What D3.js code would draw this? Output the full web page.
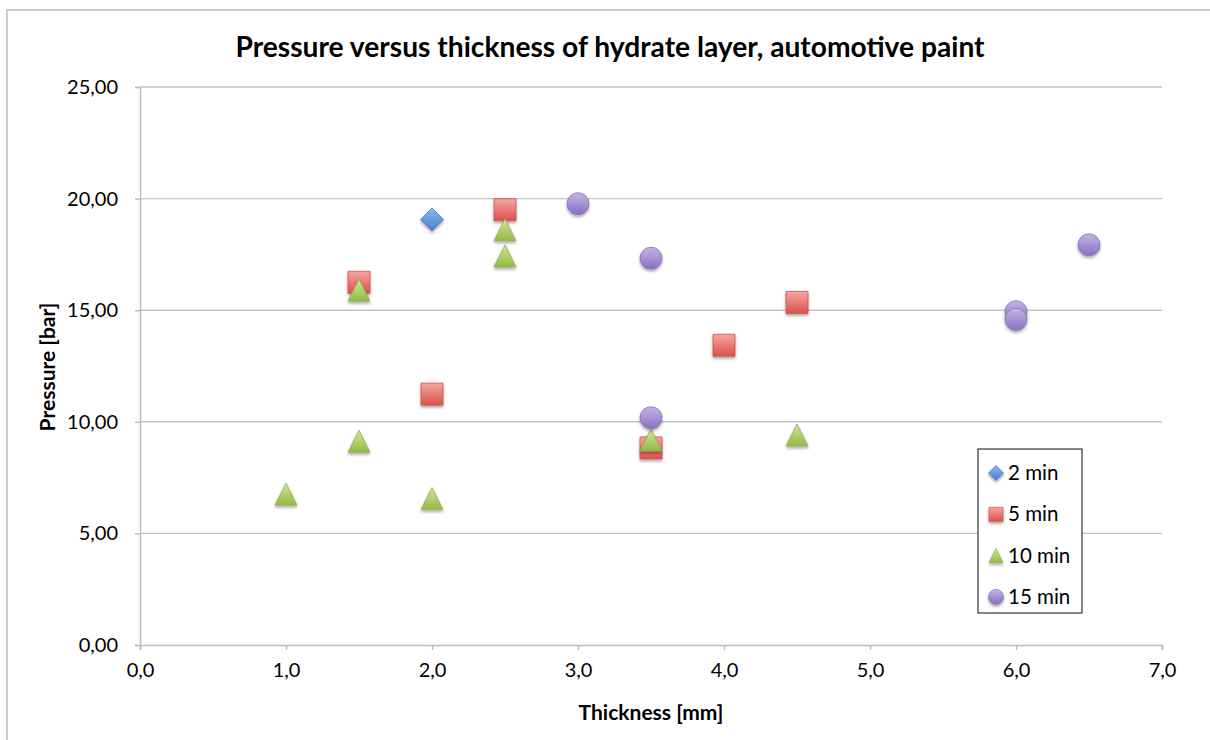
<!DOCTYPE html>
<html>
<head>
<meta charset="utf-8">
<script src="https://cdn.jsdelivr.net/npm/d3@7"></script>
<style>
  html, body { margin: 0; padding: 0; background: #fff; }
  svg { display: block; }
  text { font-family: Lato, "Open Sans", "Liberation Sans", sans-serif; fill: #000; }
</style>
</head>
<body>
<svg id="chart" width="1210" height="740"></svg>
<script>
// Series: thickness [mm] and pressure [bar] per exposure time
const thick2 = [2.0];
const press2 = [19.06];
const thick5 = [1.5, 2.0, 2.5, 3.5, 4.0, 4.5];
const press5 = [16.25, 11.24, 19.5, 8.83, 13.43, 15.35];
const thick10 = [1.0, 1.5, 1.5, 2.0, 2.5, 2.5, 3.5, 4.5];
const press10 = [6.76, 15.9, 9.13, 6.56, 18.6, 17.43, 9.19, 9.41];
const thick15 = [3.0, 3.5, 3.5, 6.0, 6.0, 6.5];
const press15 = [19.77, 17.33, 10.18, 14.93, 14.59, 17.93];

const seriesNames = ["2 min", "5 min", "10 min", "15 min"];
const xTicks = [0, 1, 2, 3, 4, 5, 6, 7];
const yTicks = [0, 5, 10, 15, 20, 25];

const titleText = "Pressure versus thickness of hydrate layer, automotive paint";
const xTitle = "Thickness [mm]";
const yTitle = "Pressure [bar]";

const svg = d3.select("#chart");

// outer chart frame
svg.append("rect")
  .attr("x", 7).attr("y", 10).attr("width", 1260).attr("height", 780)
  .attr("fill", "none").attr("stroke", "#cbcbcb").attr("stroke-width", 2);

const plot = { left: 140, right: 1162, top: 87, bottom: 645 };
const x = d3.scaleLinear().domain([0, 7]).range([plot.left, plot.right]);
const y = d3.scaleLinear().domain([0, 25]).range([plot.bottom, plot.top]);

const fmtX = v => d3.format(".1f")(v).replace(".", ",");
const fmtY = v => d3.format(".2f")(v).replace(".", ",");

// defs: gradients and shadow
const defs = svg.append("defs");
function grad(id, top, bottom) {
  const g = defs.append("linearGradient").attr("id", id)
    .attr("x1", 0).attr("y1", 0).attr("x2", 0).attr("y2", 1);
  g.append("stop").attr("offset", "0%").attr("stop-color", top);
  g.append("stop").attr("offset", "100%").attr("stop-color", bottom);
}
grad("gBlue", "#8ab8ef", "#4a7fcd");
grad("gRed", "#f6a6a2", "#dc514b");
grad("gGreen", "#d2e69c", "#93ba45");
grad("gPurple", "#c4b5e6", "#8a6fc0");
const shadow = defs.append("filter").attr("id", "shadow")
  .attr("x", "-50%").attr("y", "-50%").attr("width", "200%").attr("height", "200%");
shadow.append("feDropShadow").attr("dx", 0).attr("dy", 2).attr("stdDeviation", 1.6)
  .attr("flood-color", "#000").attr("flood-opacity", 0.35);

// gridlines
svg.append("g").selectAll("line").data(yTicks.filter(v => v > 0)).join("line")
  .attr("x1", plot.left).attr("x2", plot.right)
  .attr("y1", d => y(d)).attr("y2", d => y(d))
  .attr("stroke", "#c4c4c4").attr("stroke-width", 1.4);

// axes
const yAxis = svg.append("g").attr("transform", `translate(${plot.left},0)`)
  .call(d3.axisLeft(y).tickValues(yTicks).tickFormat(fmtY).tickSize(5).tickPadding(17));
const xAxis = svg.append("g").attr("transform", `translate(0,${plot.bottom})`)
  .call(d3.axisBottom(x).tickValues(xTicks).tickFormat(fmtX).tickSize(5).tickPadding(17));
[yAxis, xAxis].forEach(a => {
  a.select(".domain").attr("stroke", "#bdbdbd").attr("stroke-width", 1.5);
  a.selectAll(".tick line").attr("stroke", "#bdbdbd").attr("stroke-width", 1.5);
  a.selectAll(".tick text").attr("font-size", 20).attr("fill", "#000")
    .style("font-family", "Lato, 'Open Sans', sans-serif");
});
xAxis.selectAll(".tick text").attr("dy", "0.5em");

// titles
svg.append("text").attr("x", 610).attr("y", 57).attr("text-anchor", "middle")
  .attr("font-size", 28.2).attr("font-weight", "bold").text(titleText);
svg.append("text").attr("x", 651).attr("y", 720).attr("text-anchor", "middle")
  .attr("font-size", 21).attr("font-weight", "bold").text(xTitle);
svg.append("text").attr("transform", "translate(55,367) rotate(-90)").attr("text-anchor", "middle")
  .attr("font-size", 21).attr("font-weight", "bold").text(yTitle);

// marker shapes
const triangleType = {
  draw(ctx, size) {
    const s = Math.sqrt(size);
    ctx.moveTo(0, -s / 2);
    ctx.lineTo(s / 2, s / 2);
    ctx.lineTo(-s / 2, s / 2);
    ctx.closePath();
  }
};
const diamondType = {
  draw(ctx, size) {
    const h = Math.sqrt(size) / 2;
    ctx.moveTo(0, -h);
    ctx.lineTo(h, 0);
    ctx.lineTo(0, h);
    ctx.lineTo(-h, 0);
    ctx.closePath();
  }
};

const series = [
  { xs: thick2, ys: press2, type: diamondType, size: 23 * 23, lsize: 15 * 15, fill: "url(#gBlue)", stroke: "#4577c0" },
  { xs: thick5, ys: press5, type: d3.symbolSquare, size: 22 * 22, lsize: 14 * 14, fill: "url(#gRed)", stroke: "#c9504b" },
  { xs: thick10, ys: press10, type: triangleType, size: 22 * 22, lsize: 14 * 14, fill: "url(#gGreen)", stroke: "#8fb046" },
  { xs: thick15, ys: press15, type: d3.symbolCircle, size: Math.PI * 11 * 11, lsize: Math.PI * 7.5 * 7.5, fill: "url(#gPurple)", stroke: "#8a70bf" }
];

const marks = svg.append("g");
series.forEach(s => {
  const sym = d3.symbol().type(s.type).size(s.size);
  marks.append("g").selectAll("path")
    .data(s.xs.map((t, i) => [t, s.ys[i]]))
    .join("path")
    .attr("d", sym)
    .attr("transform", d => `translate(${x(d[0])},${y(d[1])})`)
    .attr("fill", s.fill).attr("stroke", s.stroke).attr("stroke-width", 0.8)
    .attr("filter", "url(#shadow)");
});

// legend
const legend = svg.append("g").attr("transform", "translate(978,449)");
legend.append("rect").attr("width", 104).attr("height", 164)
  .attr("fill", "#fff").attr("stroke", "#333").attr("stroke-width", 1.2);
series.forEach((s, i) => {
  const row = legend.append("g").attr("transform", `translate(0,${24 + i * 41.3})`);
  row.append("path")
    .attr("d", d3.symbol().type(s.type).size(s.lsize))
    .attr("transform", "translate(18,0)")
    .attr("fill", s.fill).attr("stroke", s.stroke).attr("stroke-width", 0.7)
    .attr("filter", "url(#shadow)");
  row.append("text").attr("x", 30).attr("y", 7).attr("font-size", 20.5).text(seriesNames[i]);
});
</script>
</body>
</html>
